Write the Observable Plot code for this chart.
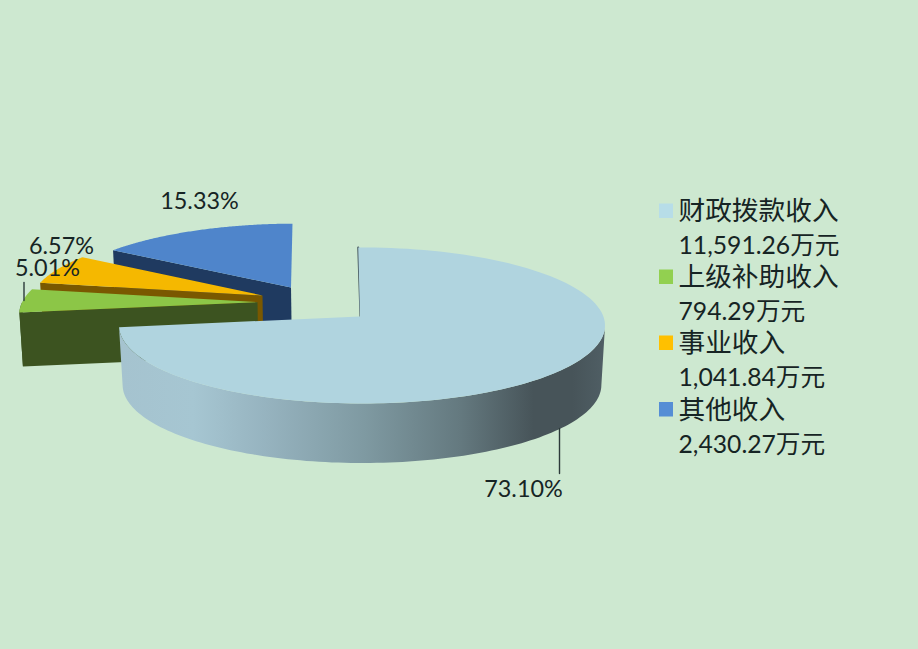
<!DOCTYPE html>
<html>
<head>
<meta charset="utf-8">
<script src="https://cdn.jsdelivr.net/npm/d3@7"></script>
<script src="https://cdn.jsdelivr.net/npm/@observablehq/plot@0.6"></script>
<style>html,body{margin:0;padding:0;background:#cde8d0}</style>
</head>
<body>
<div id="chart"></div>
<script>
// Data
const categories = ["财政拨款收入", "上级补助收入", "事业收入", "其他收入"];
const amounts = [11591.26, 794.29, 1041.84, 2430.27];
const shareLabels = ["73.10%", "5.01%", "6.57%", "15.33%"];
const unit = "万元";

// Colours
const bg = "#cde8d0";
const topColors = ["#b0d4df", "#8cc647", "#f5b800", "#4f85cb"];
const wallColors = ["url(#wall)", "#3c5320", "#7a5800", "#1f3a60"];
const swatchColors = ["#b7dde8", "#92d050", "#ffc000", "#558ed5"];
const inkColor = "#162424";

// Perspective pie layout (one entry per slice)
const R = 241.4, S = 77, P = 0.115, startAngle = -1;
const layout = [
  {ax: 359.5, ay: 316,   ox: 361.5, sx: 1,     sy: 1,     depth: 59.5, kx: 0},
  {ax: 257,   ay: 301.7, ox: 257,   sx: 0.975, sy: 0.97,  depth: 54,   kx: -0.12},
  {ax: 262,   ay: 295,   ox: 262,   sx: 0.955, sy: 0.95,  depth: 54,   kx: 0},
  {ax: 290.5, ay: 287,   ox: 290.5, sx: 0.96,  sy: 0.925, depth: 54,   kx: -0.08}
];

const total = d3.sum(amounts);
let acc = startAngle;
const slices = amounts.map((v, i) => {
  const a0 = acc; acc += v / total * 360;
  return {i, a0, a1: acc, ...layout[i]};
});

function rim(s, deg, lower) {
  const a = deg * Math.PI / 180, X = Math.sin(a), Z = -Math.cos(a), w = 1 - P * Z;
  const dy = S * s.sy * Z / w;
  const c = lower ? 0.985 : 1;
  return {
    x: s.ox + c * R * s.sx * X / w + s.kx * dy,
    y: s.ay + dy + (lower ? s.depth : 0)
  };
}
const arcAngles = (a0, a1) => d3.range(0, 121).map(k => a0 + (a1 - a0) * k / 120);

const topPoly = s => [{x: s.ax, y: s.ay}, ...arcAngles(s.a0, s.a1).map(a => rim(s, a))];
const rimWall = s => {
  const as = arcAngles(Math.max(s.a0, 97), s.i === 1 ? 270 : s.a1);
  return [...as.map(a => rim(s, a)), ...as.slice().reverse().map(a => rim(s, a, true))];
};
const sideWall = s => [
  rim(s, s.a0),
  {x: s.ax, y: s.ay},
  {x: s.ax + 0.8, y: s.ay + s.depth},
  rim(s, s.a0, true)
];
const poly = (pts, fill) => Plot.line(pts, {x: "x", y: "y", fill, stroke: "none", curve: "linear"});

const gradient = () => {
  const defs = d3.create("svg:defs");
  const g = defs.append("linearGradient").attr("id", "wall")
    .attr("gradientUnits", "userSpaceOnUse")
    .attr("x1", 120).attr("x2", 606).attr("y1", 0).attr("y2", 0);
  [[0, "#a5c3cf"], [0.15, "#a6c6d2"], [0.3, "#96b3bf"], [0.5, "#7f9aa2"],
   [0.7, "#64797f"], [0.85, "#475459"], [0.93, "#475459"], [1, "#505f65"]]
    .forEach(([o, c]) => g.append("stop").attr("offset", o).attr("stop-color", c));
  return defs.node();
};

// Back-to-front: blue, orange, green, then the large slice on top
const pieMarks = [];
[3, 2, 1].forEach(i => {
  const s = slices[i];
  if (i === 1) pieMarks.push(poly(rimWall(s), wallColors[i]));
  pieMarks.push(poly(sideWall(s), wallColors[i]));
  pieMarks.push(poly(topPoly(s), topColors[i]));
});
const main = slices[0];
const startEdge = [rim(main, main.a0), {x: main.ax + 0.5, y: main.ay}];

// Legend
const legendX = 678, swatchX = 666, rowGap = [0, 66, 132, 198.5], rowTop = 211;
const legendRows = categories.map((c, i) => ({
  name: c,
  amount: d3.format(",.2f")(amounts[i]) + unit,
  y: rowTop + rowGap[i],
  color: swatchColors[i]
}));

const labelPos = [{x: 523, y: 489}, {x: 47, y: 268}, {x: 61, y: 246}, {x: 199, y: 201}];
const labels = shareLabels.map((t, i) => ({t, ...labelPos[i]}));
const leaders = [
  [{x: 559, y: 428}, {x: 559, y: 473}],
  [{x: 23.5, y: 282}, {x: 23.5, y: 300}]
];

const font = "Lato, 'Noto Sans CJK SC', sans-serif";
const chart = Plot.plot({
  width: 918, height: 649, margin: 0,
  style: {background: bg},
  x: {domain: [0, 918], range: [0, 918], axis: null},
  y: {domain: [0, 649], range: [0, 649], axis: null},
  marks: [
    gradient,
    ...pieMarks,
    Plot.line(startEdge, {x: "x", y: "y", stroke: "#46585f", strokeWidth: 2}),
    poly(rimWall(main), wallColors[0]),
    poly(topPoly(main), topColors[0]),
    ...leaders.map(l => Plot.line(l, {x: "x", y: "y", stroke: "#2c3a3a", strokeWidth: 1.4})),
    Plot.text(labels, {x: "x", y: "y", text: "t", fontFamily: font, fontSize: 23.4, fill: inkColor}),
    Plot.rect(legendRows, {
      x1: () => swatchX - 7, x2: () => swatchX + 7,
      y1: d => d.y - 7.5, y2: d => d.y + 7,
      fill: "color"
    }),
    Plot.text(legendRows, {x: legendX, y: "y", text: "name", textAnchor: "start", fontFamily: font, fontSize: 26.7, fill: inkColor}),
    Plot.text(legendRows, {x: legendX, y: d => d.y + 35, text: "amount", textAnchor: "start", fontFamily: font, fontSize: 24.7, fill: inkColor})
  ]
});
document.getElementById("chart").append(chart);
</script>
</body>
</html>
